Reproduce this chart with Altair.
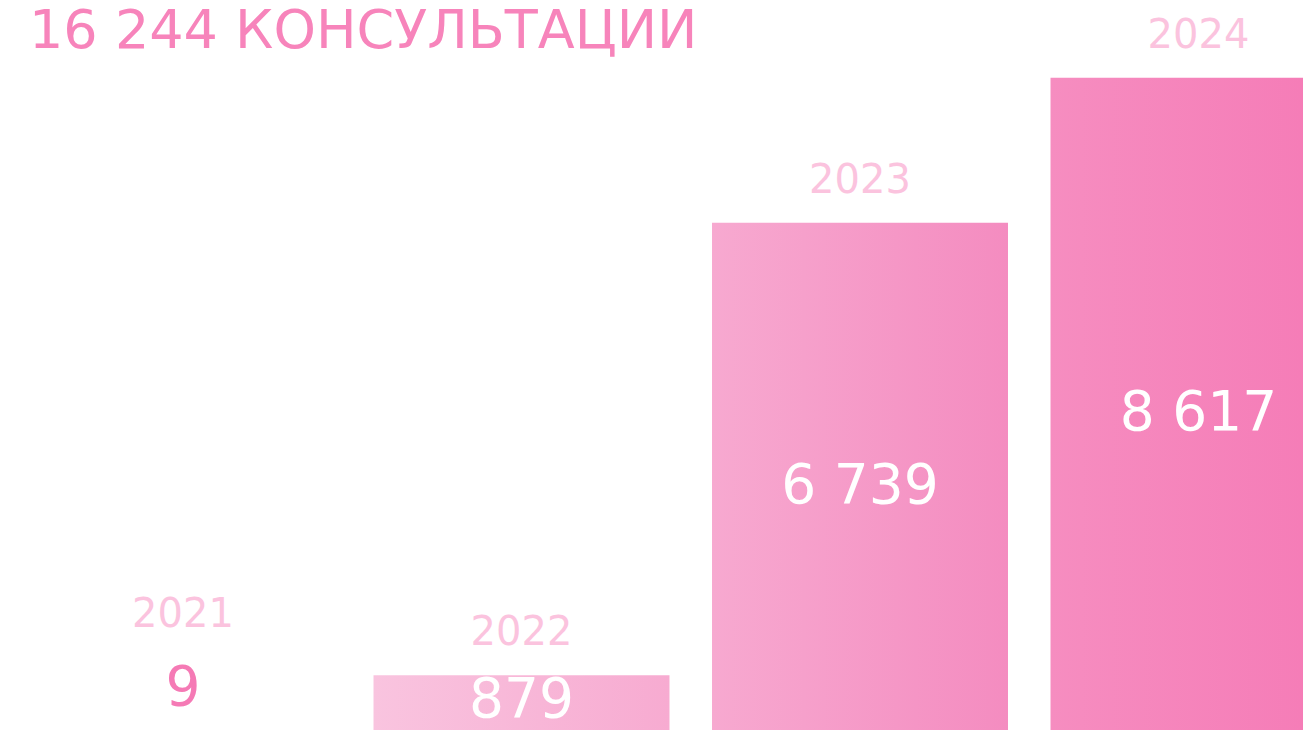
import altair as alt
import pandas as pd

years = ["2021", "2022", "2023", "2024"]
values = [9, 879, 6739, 8617]
grad_left = ["#fac8e1", "#f9c4df", "#f7a9d0", "#f68dc0"]
grad_right = ["#f8b0d4", "#f7abd1", "#f48cc0", "#f57ab6"]
title_text = "16 244 КОНСУЛЬТАЦИИ"

df = pd.DataFrame({"year": years, "value": values})
df["label"] = [f"{v:,}".replace(",", " ") for v in values]

NUM_FONT = "DejaVu Sans"
x_enc = alt.X("year:N", sort=years,
              scale=alt.Scale(domain=years, range=[27, 1338.5], paddingInner=0.1256, paddingOuter=0),
              axis=None)
y_scale = alt.Scale(domain=[0, 9520], range=[735, 0])
y_val = alt.Y("value:Q", scale=y_scale, axis=None)

base = alt.Chart(df)

bars = []
for y, gl, gr in zip(years, grad_left, grad_right):
    bars.append(
        base.transform_filter(alt.datum.year == y)
        .mark_bar(clip=True, color=alt.Gradient(
            gradient="linear", x1=0, x2=1, y1=0, y2=0,
            stops=[alt.GradientStop(color=gl, offset=0), alt.GradientStop(color=gr, offset=1)]))
        .encode(x=x_enc, y=y_val)
    )

year_big = base.transform_filter(alt.datum.value >= 100).mark_text(
    font=NUM_FONT, fontSize=40, color="#fbc3de", baseline="alphabetic", dy=-30
).encode(x=x_enc, y=y_val, text="year:N")

year_small = base.transform_filter(alt.datum.value < 100).mark_text(
    font=NUM_FONT, fontSize=40, color="#fbc3de", baseline="alphabetic", dy=-115
).encode(x=x_enc, y=y_val, text="year:N")

val_tall = base.transform_filter(alt.datum.value >= 2000).transform_calculate(
    mid="datum.value / 2"
).mark_text(
    font=NUM_FONT, fontSize=55, color="white", baseline="alphabetic", dy=20
).encode(x=x_enc, y=alt.Y("mid:Q", scale=y_scale, axis=None), text="label:N")

val_short = base.transform_filter((alt.datum.value >= 100) & (alt.datum.value < 2000)).transform_calculate(
    mid="datum.value / 2"
).mark_text(
    font=NUM_FONT, fontSize=55, color="white", baseline="alphabetic", dy=8
).encode(x=x_enc, y=alt.Y("mid:Q", scale=y_scale, axis=None), text="label:N")

val_small = base.transform_filter(alt.datum.value < 100).mark_text(
    font=NUM_FONT, fontSize=55, color="#f57ab5", baseline="alphabetic", dy=-37
).encode(x=x_enc, y=y_val, text="label:N")

title = alt.Chart(pd.DataFrame({"t": [title_text]})).mark_text(
    font="DejaVu Sans", fontSize=54, color="#f784bb", align="left", baseline="alphabetic"
).encode(x=alt.value(21), y=alt.value(40), text="t:N")

chart = alt.layer(*bars, year_big, year_small, val_tall, val_short, val_small, title).properties(
    width=1295, height=722, padding=0,
    autosize=alt.AutoSizeParams(type="none"),
    background="white",
).configure_view(stroke=None)

chart.save("out.html", embed_options={"renderer": "svg", "actions": False})
